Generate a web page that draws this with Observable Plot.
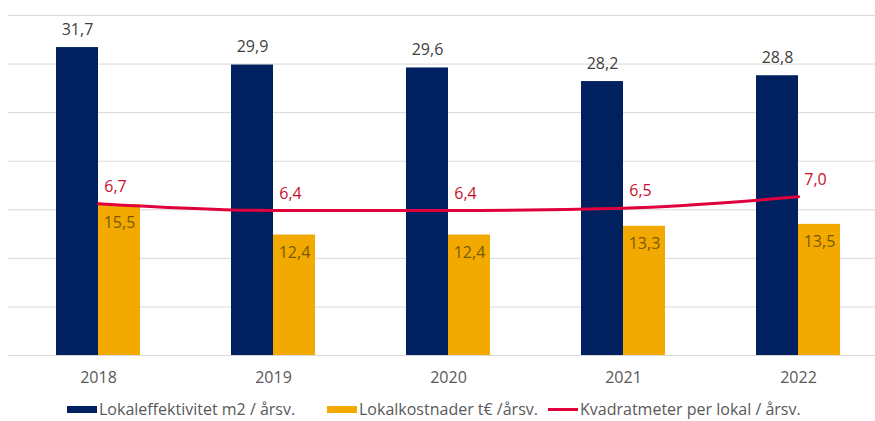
<!DOCTYPE html>
<html><head><meta charset="utf-8">
<script src="https://cdn.jsdelivr.net/npm/d3@7"></script>
<script src="https://cdn.jsdelivr.net/npm/@observablehq/plot@0.6"></script>
<style>
body{margin:0;background:#fff;font-family:"Open Sans",sans-serif;}
#legend{position:relative;height:23px;width:875px;font-size:16px;color:#595959}
.item{position:absolute;top:1px;height:20px;line-height:20px;display:flex;align-items:center;white-space:nowrap}
.sw{display:inline-block;width:30px;margin-right:2px}
</style></head><body>
<div id="chart"></div>
<div id="legend"></div>
<script>
const years = ["2018","2019","2020","2021","2022"];
const effektivitet = [31.7, 29.9, 29.6, 28.2, 28.8];
const kostnader = [15.5, 12.4, 12.4, 13.3, 13.5];
const kvadratmeter = [6.7, 6.4, 6.4, 6.5, 7.0];
const seriesNames = ["Lokaleffektivitet m2 / årsv.", "Lokalkostnader t€ /årsv.", "Kvadratmeter per lokal / årsv."];
const colors = ["#002060", "#F2A900", "#E0003C"];
const yTicks = [0, 5, 10, 15, 20, 25, 30, 35];
const primaryMax = 35, secondaryMax = 15;
const ratio = primaryMax / secondaryMax;

const fmt = v => d3.format(".1f")(v).replace(".", ",");
const data = years.map((y, i) => ({year: y, eff: effektivitet[i], kost: kostnader[i], kvm: kvadratmeter[i]}));

const chart = Plot.plot({
  width: 875, height: 398,
  marginLeft: 8, marginRight: 0, marginTop: 15, marginBottom: 43,
  style: {fontFamily: "Open Sans, sans-serif", background: "#fff", overflow: "visible"},
  x: {domain: years, range: [8, 888], paddingInner: 0.5227, paddingOuter: 0.2614},
  y: {domain: [0, primaryMax], axis: null},
  marks: [
    Plot.ruleY(yTicks, {stroke: "#d9d9d9", strokeWidth: 1}),
    Plot.barY(data, {x: "year", y: "eff", fill: colors[0], insetRight: 42, insetLeft: 0}),
    Plot.barY(data, {x: "year", y: "kost", fill: colors[1], insetLeft: 42, insetRight: 0}),
    Plot.line(data, {x: "year", y: d => d.kvm * ratio, stroke: colors[2], strokeWidth: 3, curve: "monotone-x"}),
    Plot.text(data, {x: "year", y: "eff", text: d => fmt(d.eff), dx: -21, dy: -18, fontSize: 16, fill: "#404040"}),
    Plot.text(data, {x: "year", y: "kost", text: d => fmt(d.kost), dx: 21, dy: 18, fontSize: 16, fill: "#7a5a00"}),
    Plot.text(data, {x: "year", y: d => d.kvm * ratio, text: d => fmt(d.kvm), dx: 17, dy: -17, fontSize: 16, fill: "#C8102E"}),
    Plot.axisX({tickSize: 0, tickPadding: 16, fontSize: 16, color: "#595959", label: null})
  ]
});
document.getElementById("chart").appendChild(chart);

const legend = document.getElementById("legend");
const lefts = [67, 327, 548];
seriesNames.forEach((name, i) => {
  const it = document.createElement("div");
  it.className = "item";
  it.style.left = lefts[i] + "px";
  const sw = document.createElement("span");
  sw.className = "sw";
  sw.style.background = colors[i];
  sw.style.height = i === 2 ? "3px" : "7px";
  it.appendChild(sw);
  const t = document.createElement("span");
  t.textContent = name;
  it.appendChild(t);
  legend.appendChild(it);
});
</script>
</body></html>
